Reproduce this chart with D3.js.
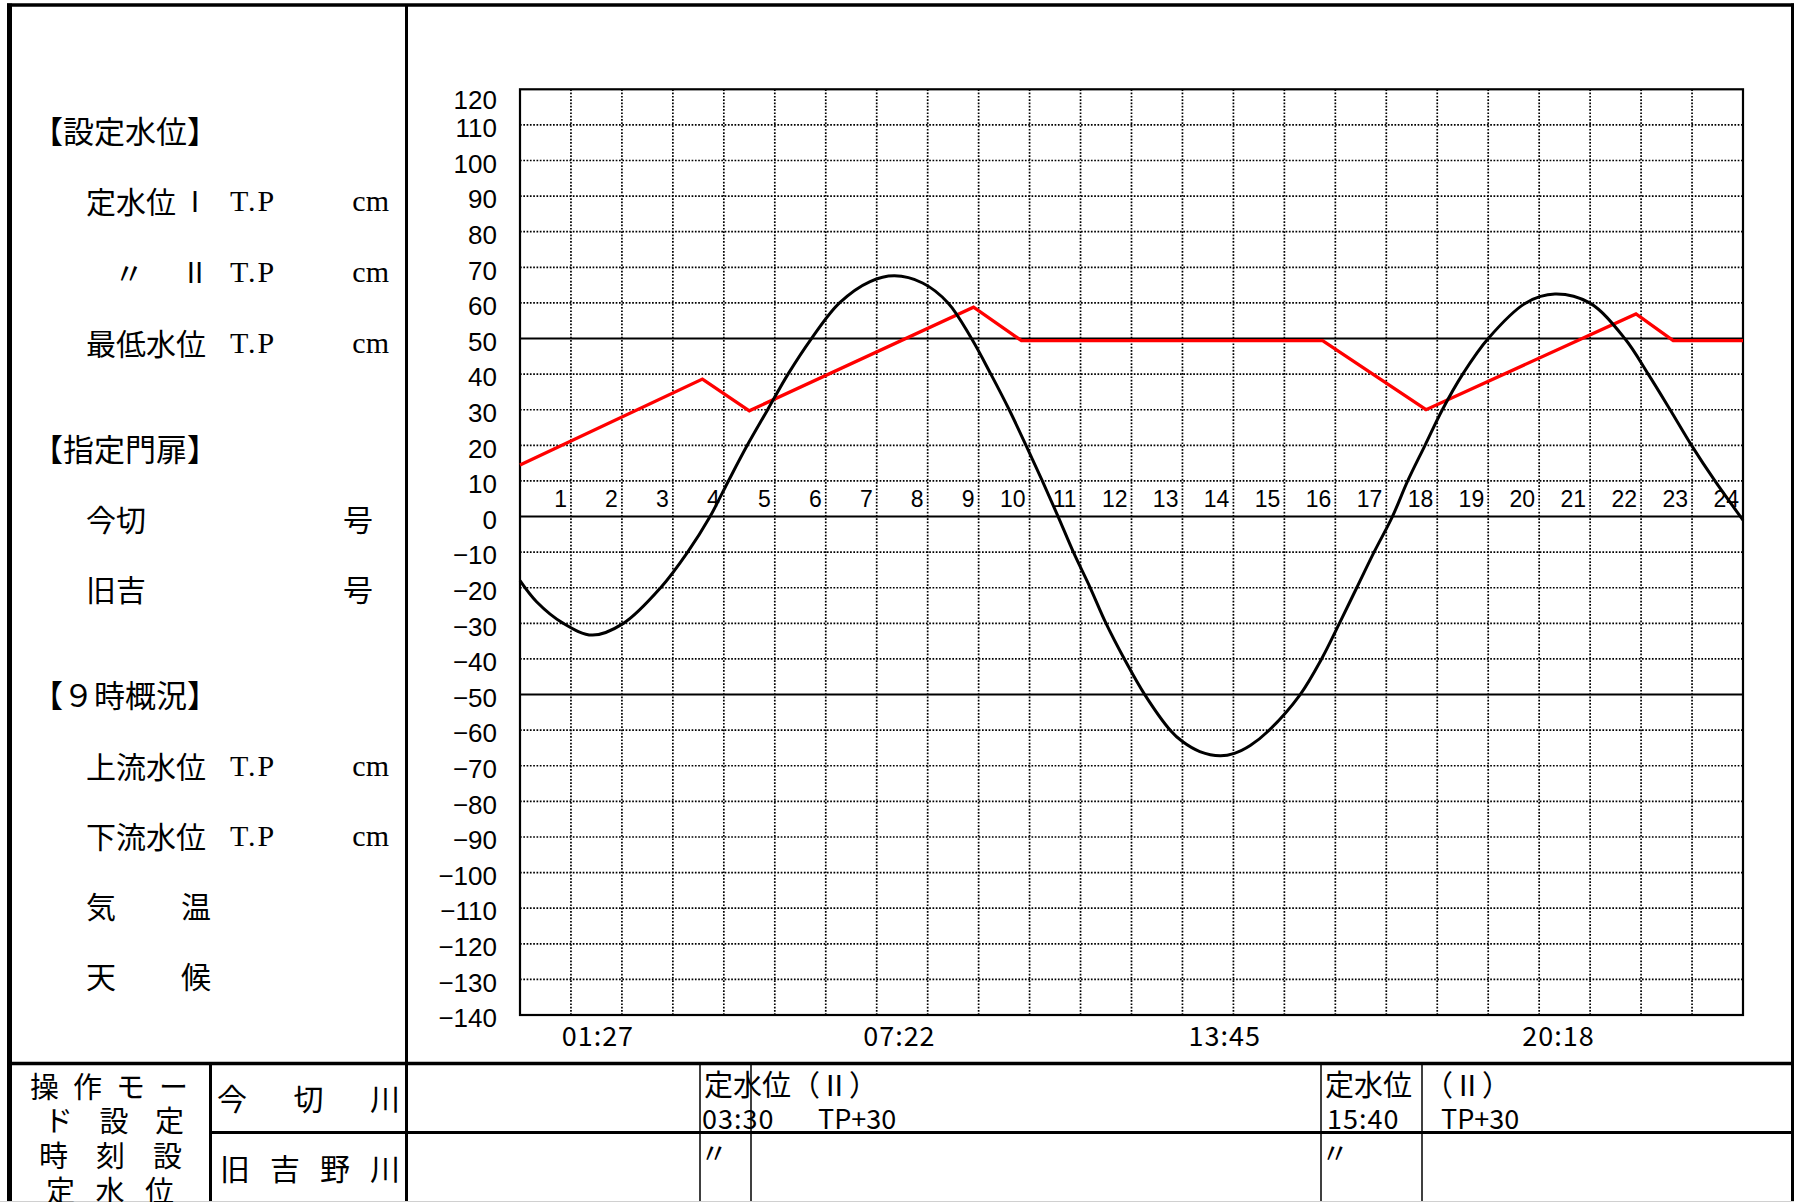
<!DOCTYPE html>
<html><head><meta charset="utf-8">
<script src="https://cdn.jsdelivr.net/npm/d3@7"></script>
<style>
html,body{margin:0;padding:0;background:#fff;}
svg{display:block;}
</style></head><body>
<svg id="c" width="1794" height="1202"></svg>
<script>
// ---------- data ----------
const yTickValues = [120,110,100,90,80,70,60,50,40,30,20,10,0,-10,-20,-30,-40,-50,-60,-70,-80,-90,-100,-110,-120,-130,-140];
const hourLabels = ["1","2","3","4","5","6","7","8","9","10","11","12","13","14","15","16","17","18","19","20","21","22","23","24"];
const timeLabels = ["01:27","07:22","13:45","20:18"];
const refLevels = [50, 0, -50];

// tide curve (black), hours / cm
const tideHours  = [0,0.33,0.85,1.42,2.03,2.76,3.29,3.73,4.09,4.46,4.86,5.26,5.72,6.27,6.87,7.35,7.90,8.40,8.86,9.24,9.60,9.93,10.25,10.56,10.86,11.19,11.50,11.86,12.26,12.76,13.00,13.34,13.74,14.02,14.33,14.68,15.31,15.73,16.08,16.42,16.76,17.12,17.42,17.76,18.10,18.50,19.00,19.74,20.31,20.99,21.68,22.14,22.57,22.99,23.45,24.0];
const tideLevels = [-18,-24,-30,-33.3,-30,-20,-10,0,10,20,30,40,50,60,66,67.6,65.6,60,50,40,30,20,10,0,-10,-20,-30,-40,-50,-60,-63.2,-66,-67.2,-66.5,-64.3,-60.3,-50,-40,-30,-20,-10,0,10,20,30,40,50,60,62.5,60,50,40,30,20,10,-1];

// set water level (red)
const setHours  = [0,3.58,4.50,8.90,9.84,15.75,17.78,21.90,22.63,24];
const setLevels = [14.5,38.6,29.7,58.8,49.4,49.4,30,56.9,49.4,49.4];

// left panel texts
const panelHeads = ["【設定水位】","【指定門扉】","【９時概況】"];
const panelItems = ["定水位","〃","最低水位","今切","旧吉","上流水位","下流水位","気","天"];
const tableModeLines = ["操作モー","ド設定","時刻設","定水位"];
const riverNames = ["今切川","旧吉野川"];

// ---------- layout ----------
const svg = d3.select("#c");
const L = 520, R = 1743, T = 89.3, B = 1015;
const x = d3.scaleLinear().domain([0,24]).range([L,R]);
const y = d3.scaleLinear().domain([-140,120]).range([B,T]);
const JP = "'Noto Sans CJK JP', sans-serif";
const SER = "'Liberation Serif','DejaVu Serif','Noto Sans CJK JP', serif";

// frame
const frame = svg.append("g").attr("stroke","#000").attr("fill","none");
frame.append("line").attr("x1",7).attr("x2",1794).attr("y1",5).attr("y2",5).attr("stroke-width",3.5);
frame.append("line").attr("x1",9.5).attr("x2",9.5).attr("y1",3.5).attr("y2",1202).attr("stroke-width",5);
frame.append("line").attr("x1",1792.5).attr("x2",1792.5).attr("y1",3.5).attr("y2",1202).attr("stroke-width",3);
frame.append("line").attr("x1",406.5).attr("x2",406.5).attr("y1",5).attr("y2",1202).attr("stroke-width",3);
frame.append("line").attr("x1",9).attr("x2",1794).attr("y1",1063.5).attr("y2",1063.5).attr("stroke-width",3.5);
frame.append("line").attr("x1",210.5).attr("x2",1794).attr("y1",1132.5).attr("y2",1132.5).attr("stroke-width",3);
frame.append("line").attr("x1",210.5).attr("x2",210.5).attr("y1",1063).attr("y2",1202).attr("stroke-width",3);
[700,751,1321,1422].forEach(v=>{
  frame.append("line").attr("x1",v).attr("x2",v).attr("y1",1063).attr("y2",1202).attr("stroke-width",1.5);
});
svg.append("line").attr("x1",0).attr("x2",1794).attr("y1",1201.5).attr("y2",1201.5).attr("stroke","#d0d0d0").attr("stroke-width",1);

// grid (dotted)
const grid = svg.append("g").attr("stroke","#000").attr("stroke-width",1.7).attr("stroke-dasharray","1.7 1.6");
yTickValues.filter(v => v < 120 && v > -140 && !refLevels.includes(v)).forEach(v=>{
  grid.append("line").attr("x1",L).attr("x2",R).attr("y1",y(v)).attr("y2",y(v));
});
d3.range(1,24).forEach(h=>{
  grid.append("line").attr("x1",x(h)).attr("x2",x(h)).attr("y1",T).attr("y2",B);
});

// reference solid lines
refLevels.forEach(v=>{
  svg.append("line").attr("x1",L).attr("x2",R).attr("y1",y(v)).attr("y2",y(v)).attr("stroke","#000").attr("stroke-width",2);
});

// plot border
svg.append("rect").attr("x",L).attr("y",T).attr("width",R-L).attr("height",B-T)
  .attr("fill","none").attr("stroke","#000").attr("stroke-width",2.2);

// y axis labels via d3 axis
const yAxis = d3.axisLeft(y).tickValues(yTickValues).tickSize(0).tickPadding(23)
  .tickFormat(v => v < 0 ? "\u2212" + Math.abs(v) : String(v));
const gy = svg.append("g").attr("transform",`translate(${L},0)`).call(yAxis);
gy.select(".domain").remove();
gy.selectAll("text").attr("font-family","'Liberation Sans', Arial, sans-serif").attr("font-size",26)
  .attr("fill","#000").attr("dy","0.45em");
gy.selectAll(".tick").filter(d => d === 120).select("text").attr("dy","0.72em");

// hour labels
svg.append("g").selectAll("text").data(hourLabels).join("text")
  .attr("x", d => x(+d) - 4).attr("y", 507)
  .attr("text-anchor","end").attr("font-family","'Liberation Sans', Arial, sans-serif")
  .attr("font-size",23).attr("fill","#000").text(d=>d);

// time labels under axis
svg.append("g").selectAll("text").data(timeLabels).join("text")
  .attr("x", d => { const p = d.split(":"); return x(+p[0] + p[1]/60) + 4; })
  .attr("y", 1046).attr("text-anchor","middle").attr("font-family",JP)
  .attr("font-size",27).attr("letter-spacing",1).attr("fill","#000").text(d=>d);

// series
const setLine = d3.line().x(d=>x(d[0])).y(d=>y(d[1]));
svg.append("path").datum(d3.zip(setHours,setLevels)).attr("d",setLine)
  .attr("fill","none").attr("stroke","#ff0000").attr("stroke-width",3.3).attr("stroke-linejoin","miter");
const tideLine = d3.line().x(d=>x(d[0])).y(d=>y(d[1])).curve(d3.curveCatmullRom.alpha(0.5));
svg.append("path").datum(d3.zip(tideHours,tideLevels)).attr("d",tideLine)
  .attr("fill","none").attr("stroke","#000").attr("stroke-width",3);

// ---------- left panel ----------
const lp = svg.append("g").attr("fill","#000").attr("dominant-baseline","central");
function t(txt, xx, yy, opts={}) {
  const e = lp.append("text").attr("x",xx).attr("y",yy).text(txt)
    .attr("font-family", opts.fam || JP).attr("font-size", opts.size || 30);
  if (opts.anchor) e.attr("text-anchor",opts.anchor);
  if (opts.ls) e.attr("letter-spacing",opts.ls);
  if (opts.len) e.attr("textLength",opts.len).attr("lengthAdjust","spacing");
  return e;
}
t(panelHeads[0], 32, 129, {size:31});
t(panelItems[0], 86, 200);
t("Ⅰ", 181, 200, {size:28});
t(panelItems[1], 114, 271);
t("Ⅱ", 181, 271, {size:28});
t(panelItems[2], 86, 342);
[200,271,342].forEach(yy=>{ t("T.P",230,yy,{fam:SER,ls:2}); t("cm",389,yy,{fam:SER,anchor:"end"}); });
t(panelHeads[1], 32, 447, {size:31});
t(panelItems[3], 86, 518);
t(panelItems[4], 86, 588);
t("号", 373, 518, {anchor:"end"});
t("号", 373, 588, {anchor:"end"});
t(panelHeads[2], 32, 693, {size:31});
t(panelItems[5], 86, 765);
t(panelItems[6], 86, 835);
[765,835].forEach(yy=>{ t("T.P",230,yy,{fam:SER,ls:2}); t("cm",389,yy,{fam:SER,anchor:"end"}); });
t(panelItems[7], 86, 905); t("温", 181, 905);
t(panelItems[8], 86, 975); t("候", 181, 975);

// ---------- bottom table ----------
t(tableModeLines[0], 30, 1085, {len:158, size:29});
t(tableModeLines[1], 44, 1119, {len:140, size:29});
t(tableModeLines[2], 39, 1154, {len:143, size:29});
t(tableModeLines[3], 46, 1189, {len:128, size:29});
t(riverNames[0], 217, 1097, {len:183});
t(riverNames[1], 220, 1167, {len:180});

t("定水位（Ⅱ）", 704, 1083, {size:29});
t("03:30", 702, 1117, {size:27, ls:1});
t("TP+30", 818, 1117, {size:27});
t("〃", 700, 1152, {size:28});
t("定水位", 1325, 1083, {size:29});
t("（Ⅱ）", 1424, 1083, {size:29});
t("15:40", 1327, 1117, {size:27, ls:1});
t("TP+30", 1441, 1117, {size:27});
t("〃", 1321, 1152, {size:28});
</script>
</body></html>
